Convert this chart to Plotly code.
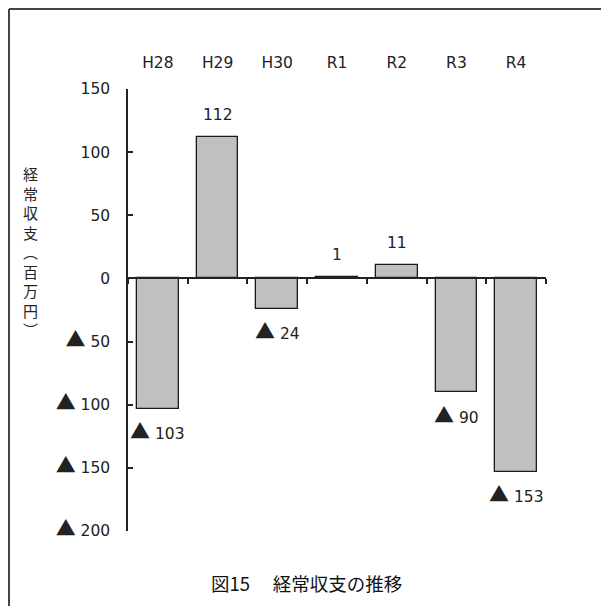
import plotly.graph_objects as go

categories = ["H28", "H29", "H30", "R1", "R2", "R3", "R4"]
values = [-103, 112, -24, 1, 11, -90, -153]
y_ticks = [150, 100, 50, 0, -50, -100, -150, -200]
y_title = "経常収支(百万円)"
chart_title = "図15\u3000 経常収支の推移"

TRI = '<span style="font-family:Noto Sans CJK JP;font-size:20px">▲</span>'


def fmt(v):
    return f"{TRI} {abs(v)}" if v < 0 else str(v)


idx = list(range(len(categories)))
FONT = "DejaVu Sans"
FS = 15.5

fig = go.Figure()
fig.add_trace(go.Bar(
    x=idx, y=values, width=0.7,
    marker=dict(color="#c0c0c0", line=dict(color="#1a1a1a", width=1.3)),
    hoverinfo="skip", showlegend=False,
))
# invisible helper trace for the top category axis
fig.add_trace(go.Scatter(
    x=idx, y=values, xaxis="x2", mode="markers",
    marker=dict(opacity=0), hoverinfo="skip", showlegend=False,
))

for i, v in zip(idx, values):
    fig.add_annotation(
        x=i, y=v, xref="x", yref="y", text=fmt(v), showarrow=False,
        yshift=22 if v >= 0 else -22,
        font=dict(family=FONT, size=FS, color="#222"),
    )

# vertical y-axis title (upright characters)
vert = y_title.replace("(", "︵").replace(")", "︶")
fig.add_annotation(
    x=-0.234, y=0.633, xref="paper", yref="paper", showarrow=False,
    xanchor="center", yanchor="middle",
    text="<br>".join(vert),
    font=dict(family="Noto Sans CJK JP", size=15, color="#222"),
)

fig.add_annotation(
    x=0.428, y=-0.1176, xref="paper", yref="paper", showarrow=False,
    xanchor="center", yanchor="middle",
    text=chart_title,
    font=dict(family="Noto Sans CJK JP", size=18.5, color="#111"),
)

# outer frame
fig.add_shape(type="line", xref="paper", yref="paper",
              x0=-0.2847, x1=-0.2847, y0=-0.3, y1=1.181,
              line=dict(color="#444", width=2))
fig.add_shape(type="line", xref="paper", yref="paper",
              x0=-0.2847, x1=1.3, y0=1.181, y1=1.181,
              line=dict(color="#444", width=2))

fig.update_layout(
    width=609, height=606,
    margin=dict(l=120, r=71, t=81, b=83),
    plot_bgcolor="white", paper_bgcolor="white",
    bargap=0,
    xaxis=dict(
        range=[-0.5, 6.5], anchor="free", position=200 / 350,
        showline=True, linecolor="#222", linewidth=1.5,
        ticks="outside", ticklen=5, tickwidth=1.5, tickcolor="#222",
        tick0=-0.5, dtick=1, showticklabels=False,
        showgrid=False, zeroline=False,
    ),
    xaxis2=dict(
        range=[-0.5, 6.5], overlaying="x", side="top", anchor="y",
        tickvals=idx, ticktext=categories, showline=False, ticks="",
        ticklabelstandoff=17, showgrid=False, zeroline=False,
        tickfont=dict(family=FONT, size=FS, color="#222"),
    ),
    yaxis=dict(
        range=[-200, 150], tickvals=y_ticks,
        ticktext=[fmt(v) for v in y_ticks],
        showline=True, linecolor="#222", linewidth=1.5,
        ticks="inside", ticklen=5, tickwidth=1.5, tickcolor="#222",
        ticklabelstandoff=13,
        showgrid=False, zeroline=False,
        tickfont=dict(family=FONT, size=FS, color="#222"),
    ),
)

fig.write_html("out.html")
